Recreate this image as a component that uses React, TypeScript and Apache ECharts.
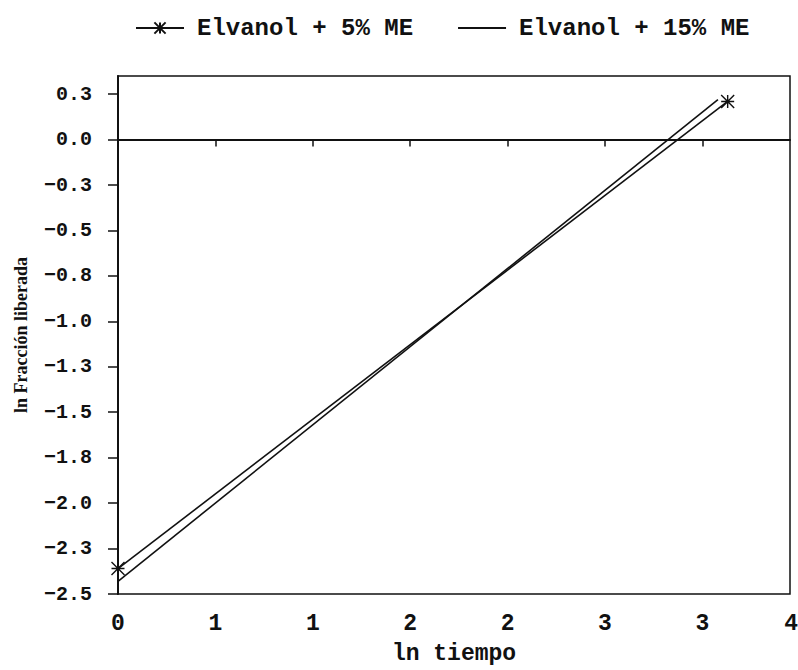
import { useEffect, useRef } from "react";
import * as echarts from "echarts";

const seriesNames = ["Elvanol + 5% ME", "Elvanol + 15% ME"];
const lnTiempo5 = [0, 3.13];
const lnFraccion5 = [-2.36, 0.21];
const lnTiempo15 = [0, 3.08];
const lnFraccion15 = [-2.43, 0.22];
const xTickValues = [0, 0.5, 1, 1.5, 2, 2.5, 3, 3.5];
const xTickLabels = ["0", "1", "1", "2", "2", "3", "3", "4"];
const yTickValues = [0.25, 0, -0.25, -0.5, -0.75, -1, -1.25, -1.5, -1.75, -2, -2.25, -2.5];
const yTickLabels = ["0.3", "0.0", "−0.3", "−0.5", "−0.8", "−1.0", "−1.3", "−1.5", "−1.8", "−2.0", "−2.3", "−2.5"];
const refLine = [0];

const MONO = "'Liberation Mono', 'DejaVu Sans Mono', monospace";
const SERIF = "'Liberation Serif', 'DejaVu Serif', serif";
const INK = "#111";
const ASTERISK = "path://M0,-10L0,10M-10,-10L10,10M-10,10L10,-10M-10,0L10,0";

function lookup(values: number[], labels: string[], v: number): string {
  for (let i = 0; i < values.length; i++) {
    if (Math.abs(values[i] - v) < 1e-6) return labels[i];
  }
  return "";
}

export default function App() {
  const ref = useRef<HTMLDivElement>(null);
  useEffect(() => {
    if (!ref.current) return;
    const chart = echarts.init(ref.current, undefined, { renderer: "svg" });
    const xMargin = 18;
    chart.setOption({
      animation: false,
      backgroundColor: "#fff",
      legend: {
        left: 130,
        top: 10,
        itemWidth: 48,
        itemHeight: 14,
        itemGap: 44,
        data: [
          { name: seriesNames[0] },
          { name: seriesNames[1], itemStyle: { opacity: 0 } },
        ],
        textStyle: {
          fontFamily: MONO,
          fontWeight: "bold",
          fontSize: 24,
          color: INK,
          lineHeight: 26,
          padding: [0, 0, 0, 8],
        },
      },
      grid: {
        left: 118,
        right: 8,
        top: 76,
        bottom: 74,
        show: true,
        borderColor: INK,
        borderWidth: 1.5,
        backgroundColor: "transparent",
      },
      xAxis: {
        type: "value",
        min: 0,
        max: 3.45,
        interval: 0.5,
        name: "ln tiempo",
        nameLocation: "middle",
        nameGap: 48,
        nameTextStyle: { fontFamily: MONO, fontWeight: "bold", fontSize: 23, color: INK },
        axisLine: { show: true, lineStyle: { color: INK, width: 2 } },
        axisTick: { show: true, length: 7, lineStyle: { color: INK, width: 1.5 }, customValues: xTickValues.slice(0, 7) },
        axisLabel: {
          margin: xMargin,
          fontFamily: MONO,
          fontWeight: "bold",
          fontSize: 23,
          color: INK,
          customValues: xTickValues.slice(0, 7),
          formatter: (v: number) => lookup(xTickValues, xTickLabels, v),
        },
        splitLine: { show: false },
      },
      yAxis: {
        type: "value",
        min: -2.5,
        max: 0.35,
        interval: 0.25,
        name: "ln Fracción liberada",
        nameLocation: "middle",
        nameGap: 88,
        nameTextStyle: { fontFamily: SERIF, fontWeight: "bold", fontSize: 18, color: INK },
        axisLine: { show: true, lineStyle: { color: INK, width: 2 } },
        axisTick: { show: true, length: 10, lineStyle: { color: INK, width: 1.5 }, customValues: yTickValues },
        axisLabel: {
          margin: 26,
          fontFamily: MONO,
          fontWeight: "bold",
          fontSize: 20,
          color: INK,
          customValues: yTickValues,
          formatter: (v: number) => lookup(yTickValues, yTickLabels, v),
        },
        splitLine: { show: false },
      },
      series: [
        {
          name: seriesNames[0],
          type: "line",
          data: lnTiempo5.map((x, i) => [x, lnFraccion5[i]]),
          symbol: ASTERISK,
          symbolSize: 13,
          showSymbol: true,
          itemStyle: { color: "none", borderColor: INK, borderWidth: 1.4 },
          lineStyle: { color: INK, width: 1.6 },
        },
        {
          name: seriesNames[1],
          type: "line",
          data: lnTiempo15.map((x, i) => [x, lnFraccion15[i]]),
          symbol: "none",
          itemStyle: { color: INK },
          lineStyle: { color: INK, width: 1.6 },
          markLine: {
            silent: true,
            symbol: ["none", "none"],
            label: { show: false },
            lineStyle: { color: INK, width: 2, type: "solid" },
            data: refLine.map((v) => ({ yAxis: v })),
          },
        },
      ],
    });
    const baseY = chart.convertToPixel({ yAxisIndex: 0 }, -2.5) as number;
    chart.setOption({
      graphic: [
        {
          type: "text",
          right: 0,
          y: baseY + xMargin,
          style: {
            text: xTickLabels[7],
            fontFamily: MONO,
            fontWeight: "bold",
            fontSize: 23,
            fill: INK,
            verticalAlign: "top",
          },
        },
      ],
    });
    return () => chart.dispose();
  }, []);
  return (
    <div
      ref={ref}
      style={{ position: "fixed", left: 0, top: 0, width: 798, height: 670, background: "#fff" }}
    />
  );
}
